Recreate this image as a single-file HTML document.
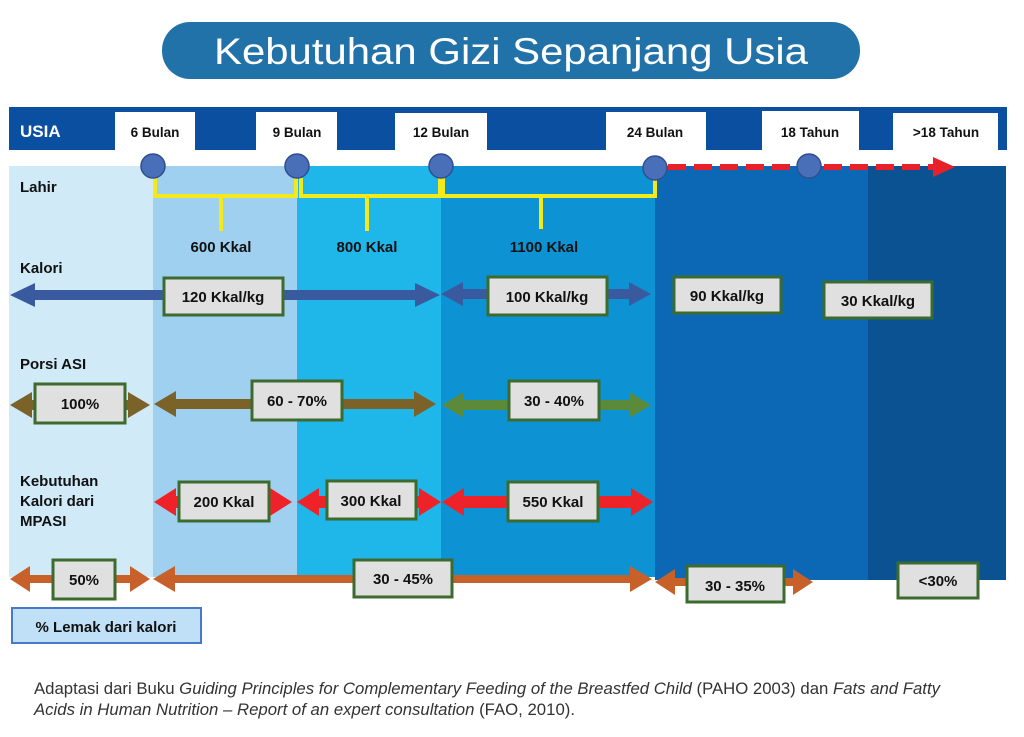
<!DOCTYPE html>
<html><head><meta charset="utf-8"><style>
html,body{margin:0;padding:0;background:#fff;}
svg{display:block;}
text{font-family:"Liberation Sans",sans-serif;}
</style></head><body>
<svg width="1024" height="737" viewBox="0 0 1024 737" xmlns="http://www.w3.org/2000/svg">
<rect width="1024" height="737" fill="#fff"/>
<!-- title -->
<rect x="162" y="22" width="698" height="57" rx="28" fill="#2272aa"/>
<text x="511" y="64" text-anchor="middle" fill="#fff" font-size="37" textLength="594" lengthAdjust="spacingAndGlyphs" font-family="Liberation Sans Narrow,Liberation Sans,sans-serif">Kebutuhan Gizi Sepanjang Usia</text>
<!-- header bar -->
<rect x="9" y="107" width="998" height="43" fill="#0a4fa0"/>
<text x="20" y="137" fill="#fff" font-size="17" font-weight="bold">USIA</text>
<g fill="#fff"><rect x="115" y="112" width="80" height="38"/><rect x="256" y="112" width="81" height="38"/><rect x="395" y="113" width="92" height="37"/><rect x="606" y="112" width="100" height="38"/><rect x="762" y="111" width="97" height="39"/><rect x="893" y="113" width="105" height="37"/></g>
<g font-size="13.5" font-weight="bold" fill="#111" text-anchor="middle">
<text x="155" y="137">6 Bulan</text><text x="297" y="137">9 Bulan</text><text x="441" y="137">12 Bulan</text><text x="655" y="137">24 Bulan</text><text x="810" y="137">18 Tahun</text><text x="946" y="137">&gt;18 Tahun</text></g>
<!-- columns -->
<rect x="9" y="166" width="144" height="411" fill="#d0eaf8"/>
<rect x="153" y="166" width="144" height="411" fill="#9fd0f0"/>
<rect x="297" y="166" width="144" height="411" fill="#1fb6e9"/>
<rect x="441" y="166" width="214" height="411" fill="#0d93d3"/>
<rect x="655" y="166" width="213" height="414" fill="#0c68b4"/>
<rect x="868" y="166" width="138" height="414" fill="#0a5292"/>
<!-- yellow brackets -->
<g stroke="#f3ea1c" stroke-width="4" fill="none">
<path d="M155,178 V196 H296 V178"/><path d="M221,196 V231"/>
<path d="M301,178 V196 H440 V178"/><path d="M367,196 V231"/>
<path d="M443,178 V196 H655 V178"/><path d="M541,196 V229"/>
</g>
<!-- dashed red -->
<line x1="668" y1="167" x2="935" y2="167" stroke="#e8202a" stroke-width="6" stroke-dasharray="18,8"/>
<polygon points="933,157 955,167 933,177" fill="#e8202a"/>
<!-- circles -->
<g fill="#4a6fb9" stroke="#2f4f8f" stroke-width="1.5">
<circle cx="153" cy="166" r="12"/><circle cx="297" cy="166" r="12"/><circle cx="441" cy="166" r="12"/><circle cx="655" cy="168" r="12"/><circle cx="809" cy="166" r="12"/></g>
<!-- row labels -->
<g font-size="15" font-weight="bold" fill="#111">
<text x="20" y="192">Lahir</text><text x="20" y="273">Kalori</text><text x="20" y="369">Porsi ASI</text>
<text x="20" y="486">Kebutuhan</text><text x="20" y="506">Kalori dari</text><text x="20" y="526">MPASI</text>
</g>
<g font-size="15" font-weight="bold" fill="#111" text-anchor="middle">
<text x="221" y="252">600 Kkal</text><text x="367" y="252">800 Kkal</text><text x="544" y="252">1100 Kkal</text></g>
<!-- arrows -->
<g fill="#3a5aa0">
<polygon points="10,295 35,283 35,290 415,290 415,283 440,295 415,307 415,300 35,300 35,307"/>
<polygon points="441,294 463,282 463,289 629,289 629,282 651,294 629,306 629,299 463,299 463,306"/>
</g>
<g fill="#7a6228">
<polygon points="10,405 32,392 32,400 128,400 128,392 150,405 128,418 128,410 32,410 32,418"/>
<polygon points="154,404 176,391 176,399 414,399 414,391 436,404 414,417 414,409 176,409 176,417"/>
</g>
<polygon fill="#5b8a3a" points="442,405 464,392 464,400 629,400 629,392 651,405 629,418 629,410 464,410 464,418"/>
<g fill="#ee2229">
<polygon points="154,502 176,488 176,496 270,496 270,488 292,502 270,516 270,508 176,508 176,516"/>
<polygon points="297,502 319,488 319,496 419,496 419,488 441,502 419,516 419,508 319,508 319,516"/>
<polygon points="442,502 464,488 464,496 631,496 631,488 653,502 631,516 631,508 464,508 464,516"/>
</g>
<g fill="#c8602a">
<polygon points="10,579 30,566 30,575 130,575 130,566 150,579 130,592 130,583 30,583 30,592"/>
<polygon points="153,579 175,566 175,575 630,575 630,566 652,579 630,592 630,583 175,583 175,592"/>
<polygon points="655,582 675,569 675,578 793,578 793,569 813,582 793,595 793,586 675,586 675,595"/>
</g>
<!-- boxes -->
<g fill="#e0e0e0" stroke="#3d6b2e" stroke-width="3">
<rect x="164" y="278" width="119" height="37"/><rect x="488" y="277" width="119" height="38"/>
<rect x="674" y="277" width="107" height="36"/><rect x="824" y="282" width="108" height="36"/>
<rect x="35" y="384" width="90" height="39"/><rect x="252" y="381" width="90" height="39"/><rect x="509" y="381" width="90" height="39"/>
<rect x="179" y="482" width="90" height="39"/><rect x="327" y="481" width="89" height="38"/><rect x="508" y="482" width="90" height="39"/>
<rect x="53" y="560" width="62" height="39"/><rect x="354" y="560" width="98" height="37"/><rect x="687" y="566" width="97" height="36"/><rect x="898" y="563" width="80" height="35"/>
</g>
<g font-size="15" font-weight="bold" fill="#111" text-anchor="middle">
<text x="223" y="302">120 Kkal/kg</text><text x="547" y="302">100 Kkal/kg</text><text x="727" y="301">90 Kkal/kg</text><text x="878" y="306">30 Kkal/kg</text>
<text x="80" y="409">100%</text><text x="297" y="406">60 - 70%</text><text x="554" y="406">30 - 40%</text>
<text x="224" y="507">200 Kkal</text><text x="371" y="506">300 Kkal</text><text x="553" y="507">550 Kkal</text>
<text x="84" y="585">50%</text><text x="403" y="584">30 - 45%</text><text x="735" y="591">30 - 35%</text><text x="938" y="586">&lt;30%</text>
</g>
<!-- legend -->
<rect x="12" y="608" width="189" height="35" fill="#bfe0f6" stroke="#4a78c8" stroke-width="2"/>
<text x="106" y="632" text-anchor="middle" font-size="15" font-weight="bold" fill="#111">% Lemak dari kalori</text>
<!-- footnote -->
<g font-size="16.5" fill="#333">
<text x="34" y="694" textLength="906" lengthAdjust="spacingAndGlyphs">Adaptasi dari Buku <tspan font-style="italic">Guiding Principles for Complementary Feeding of the Breastfed Child</tspan> (PAHO 2003) dan <tspan font-style="italic">Fats and Fatty</tspan></text>
<text x="34" y="715" textLength="541" lengthAdjust="spacingAndGlyphs"><tspan font-style="italic">Acids in Human Nutrition – Report of an expert consultation</tspan> (FAO, 2010).</text>
</g>
</svg>
</body></html>
